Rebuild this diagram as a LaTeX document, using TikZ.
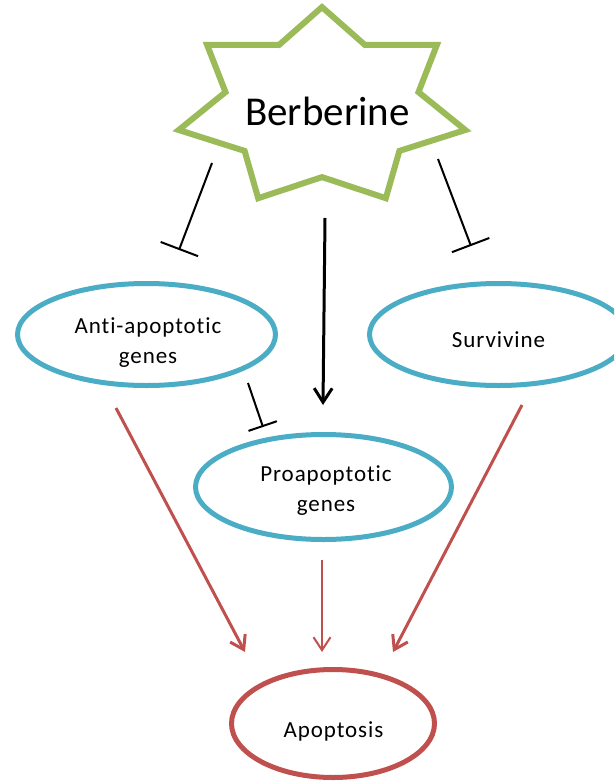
\documentclass[tikz,border=0pt]{standalone}
\usepackage{fontspec}
\setmainfont[Ligatures=NoCommon]{Carlito}
\newfontfamily\lblfont[LetterSpace=4,Ligatures=NoCommon]{Carlito}
\usetikzlibrary{shapes.geometric,arrows.meta}
\definecolor{stargreen}{HTML}{9BBB59}
\definecolor{ovalblue}{HTML}{4BACC6}
\definecolor{ovalred}{HTML}{C0504D}
\begin{document}
\begin{tikzpicture}[x=1pt,y=-1pt,
  starline/.style={draw=stargreen, line width=6pt, line join=miter},
  blueoval/.style={ellipse, draw=ovalblue, line width=5pt, inner sep=0pt},
  redoval/.style={ellipse, draw=ovalred, line width=5pt, inner sep=0pt},
  lbl/.style={font=\lblfont\fontsize{23}{30}\selectfont, align=center, inner sep=0pt},
  inhib/.style={draw=black, line width=2pt, -{Bar[width=40pt]}},
  inhibsmall/.style={draw=black, line width=2pt, -{Bar[width=30pt]}},
  activ/.style={draw=black, line width=3pt, -{Straight Barb[length=14pt,width=18pt]}},
  redarrow/.style={draw=ovalred, line width=3pt, -{Straight Barb[length=13pt,width=17pt]}},
  redarrowthin/.style={draw=ovalred, line width=2pt, -{Straight Barb[length=13pt,width=17pt]}}
]
\useasboundingbox (0,0) rectangle (614,784);
\clip (0,0) rectangle (614,784);

% Berberine star
\draw[starline] (322,7.1) -- (365.0,45.0) -- (436.9,44.9) -- (418.5,92.1)
  -- (465.3,130.0) -- (399.4,150.9) -- (385.8,198.2) -- (322,177.1)
  -- (258.2,198.2) -- (244.6,150.9) -- (178.7,130.0) -- (225.5,92.1)
  -- (207.1,44.9) -- (279.0,45.0) -- cycle;
\node[anchor=base, inner sep=0pt, font=\fontsize{41}{48}\selectfont] (berb) at (327.5,125) {Berberine};

% ellipses
\node[blueoval, minimum width=258pt, minimum height=102pt] (anti) at (146.5,334.5) {};
\node[blueoval, minimum width=258pt, minimum height=102pt] (surv) at (498.5,334.5) {};
\node[blueoval, minimum width=256pt, minimum height=105pt] (pro) at (323.5,487) {};
\node[redoval, minimum width=203pt, minimum height=108pt] (apop) at (333,723.5) {};

% labels
\node[lbl, anchor=base] (antitxt) at (148,363) {Anti-apoptotic\\genes};
\node[lbl, anchor=base] (survtxt) at (498.5,347) {Survivine};
\node[lbl, anchor=base] (protxt) at (326,511) {Proapoptotic\\genes};
\node[lbl, anchor=base] (apoptxt) at (333.5,737) {Apoptosis};

% connector end points
\coordinate (s1) at (212,163);
\coordinate (e1) at (179,250);
\coordinate (s2) at (438,159);
\coordinate (e2) at (471,246);
\coordinate (s3) at (325,218);
\coordinate (e3) at (323,405);
\coordinate (s4) at (248,383);
\coordinate (e4) at (263,427);
\coordinate (s5) at (116,408);
\coordinate (e5) at (245,652);
\coordinate (s6) at (322,560);
\coordinate (e6) at (322,652);
\coordinate (s7) at (522,405);
\coordinate (e7) at (393,652);

\draw[inhib] (s1) -- (e1);
\draw[inhib] (s2) -- (e2);
\draw[activ] (s3) -- (e3);
\draw[inhibsmall] (s4) -- (e4);
\draw[redarrow] (s5) -- (e5);
\draw[redarrowthin] (s6) -- (e6);
\draw[redarrow] (s7) -- (e7);
\end{tikzpicture}
\end{document}
